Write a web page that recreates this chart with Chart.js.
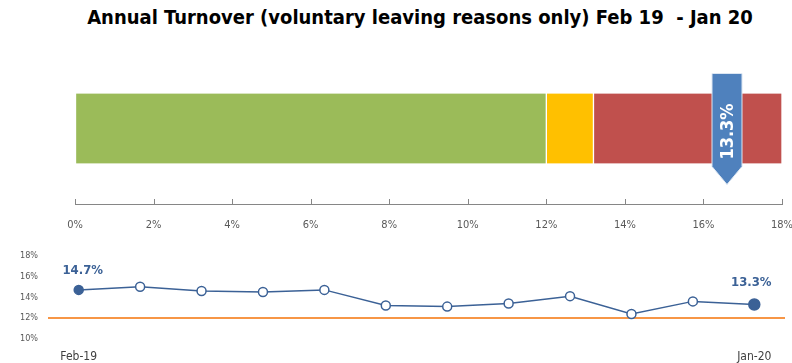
<!DOCTYPE html>
<html lang="en">
<head>
<meta charset="UTF-8">
<title>Annual Turnover</title>
<script src="https://cdn.jsdelivr.net/npm/chart.js"></script>
<style>
    html, body { margin: 0; padding: 0; background: #fff; overflow: hidden; }
    body { width: 792px; height: 363px; position: relative; }
    #title {
        position: absolute; left: 0; top: 5px; width: 840px; text-align: center;
        font-family: 'DejaVu Sans Condensed', sans-serif;
        font-weight: bold; font-size: 20px; color: #000;
    }
    #barWrap { position: absolute; left: 0; top: 0; width: 792px; height: 240px; }
    #lineWrap { position: absolute; left: 0; top: 240px; width: 792px; height: 123px; }
</style>
</head>
<body>
<div id="title">Annual Turnover (voluntary leaving reasons only) Feb 19&nbsp; - Jan 20</div>
<div id="barWrap"><canvas id="barChart"></canvas></div>
<div id="lineWrap"><canvas id="lineChart"></canvas></div>
<script>
// --- bands of the top bar (percent) ---
const bandNames = ['Good', 'Warning', 'High'];
const bandValues = [12, 1.2, 4.8];
const bandColors = ['#9bbb59', '#ffc000', '#c0504d'];
const barTicks = [0, 2, 4, 6, 8, 10, 12, 14, 16, 18];

// marker on the bar
const markerPos = 16.6;
const markerLabel = '13.3%';

// --- monthly trend ---
const months = ['Feb-19', 'Mar-19', 'Apr-19', 'May-19', 'Jun-19', 'Jul-19',
                'Aug-19', 'Sep-19', 'Oct-19', 'Nov-19', 'Dec-19', 'Jan-20'];
const turnover = [14.7, 15.0, 14.6, 14.5, 14.7, 13.2, 13.1, 13.4, 14.1, 12.4, 13.6, 13.3];
const target = 12;
const lineTicks = [10, 12, 14, 16, 18];

const font = "'DejaVu Sans Condensed', sans-serif";
const blue = '#3b6196';

// arrow marker + inward tick marks
const markerPlugin = {
    id: 'marker',
    afterDraw(chart) {
        const ctx = chart.ctx;
        const sx = chart.scales.x;
        ctx.save();
        ctx.strokeStyle = '#868686';
        ctx.lineWidth = 1;
        sx.ticks.forEach((t, i) => {
            const px = Math.round(sx.getPixelForTick(i)) + 0.5;
            ctx.beginPath();
            ctx.moveTo(px, sx.top);
            ctx.lineTo(px, sx.top - 5);
            ctx.stroke();
        });
        ctx.restore();
    },
    afterDatasetsDraw(chart) {
        const ctx = chart.ctx;
        const x = chart.scales.x.getPixelForValue(markerPos);
        const bar = chart.getDatasetMeta(0).data[0];
        const cy = bar.y;
        const w = 15;
        const top = cy - 55, shaftBottom = cy + 38, tip = cy + 56;
        ctx.save();
        ctx.beginPath();
        ctx.moveTo(x - w, top);
        ctx.lineTo(x + w, top);
        ctx.lineTo(x + w, shaftBottom);
        ctx.lineTo(x, tip);
        ctx.lineTo(x - w, shaftBottom);
        ctx.closePath();
        ctx.fillStyle = '#4f81bd';
        ctx.fill();
        ctx.strokeStyle = '#dce6f2';
        ctx.lineWidth = 1;
        ctx.stroke();
        ctx.translate(x, cy + 3);
        ctx.rotate(-Math.PI / 2);
        ctx.fillStyle = '#fff';
        ctx.font = 'bold 18px ' + font;
        ctx.textAlign = 'center';
        ctx.textBaseline = 'middle';
        ctx.fillText(markerLabel, 0, 1);
        ctx.restore();
    }
};

new Chart(document.getElementById('barChart'), {
    type: 'bar',
    data: {
        labels: ['Turnover'],
        datasets: bandNames.map((n, i) => ({
            label: n,
            data: [bandValues[i]],
            backgroundColor: bandColors[i],
            borderColor: '#ffffff',
            borderWidth: { left: 1, right: 1, top: 0, bottom: 0 },
            borderSkipped: false,
            barThickness: 70
        }))
    },
    options: {
        indexAxis: 'y',
        responsive: true,
        maintainAspectRatio: false,
        animation: false,
        layout: { padding: { top: 53, left: 75, right: 10, bottom: 0 } },
        plugins: { legend: { display: false }, tooltip: { enabled: false } },
        scales: {
            y: { display: false, stacked: true },
            x: {
                stacked: true,
                min: 0, max: 18,
                afterBuildTicks: s => { s.ticks = barTicks.map(v => ({ value: v })); },
                afterFit: s => { s.height = 36; s.paddingLeft = 0; s.paddingRight = 0; },
                grid: { drawOnChartArea: false, drawTicks: false },
                border: { display: true, color: '#868686' },
                ticks: {
                    padding: 15,
                    color: '#595959',
                    font: { family: font, size: 11 },
                    callback: v => v + '%'
                }
            }
        }
    },
    plugins: [markerPlugin]
});

// target line + end labels
const trendPlugin = {
    id: 'trend',
    beforeDatasetsDraw(chart) {
        const ctx = chart.ctx;
        const y = chart.scales.y.getPixelForValue(target);
        ctx.save();
        ctx.strokeStyle = '#f79646';
        ctx.lineWidth = 2;
        ctx.beginPath();
        ctx.moveTo(chart.chartArea.left, y);
        ctx.lineTo(chart.chartArea.right, y);
        ctx.stroke();
        ctx.restore();
    },
    afterDatasetsDraw(chart) {
        const ctx = chart.ctx;
        const pts = chart.getDatasetMeta(0).data;
        ctx.save();
        ctx.fillStyle = blue;
        ctx.font = 'bold 13px ' + font;
        ctx.textAlign = 'center';
        ctx.textBaseline = 'middle';
        ctx.fillText(turnover[0].toFixed(1) + '%', pts[0].x + 4, pts[0].y - 19);
        ctx.fillText(turnover[lastIdx].toFixed(1) + '%', pts[lastIdx].x - 3, pts[lastIdx].y - 22);
        ctx.restore();
    }
};

const lastIdx = turnover.length - 1;
new Chart(document.getElementById('lineChart'), {
    type: 'line',
    data: {
        labels: months,
        datasets: [{
            data: turnover,
            borderColor: blue,
            borderWidth: 1.5,
            pointBorderColor: blue,
            pointBorderWidth: 1.5,
            pointBackgroundColor: c => (c.dataIndex === 0 || c.dataIndex === lastIdx) ? blue : '#ffffff',
            pointRadius: c => c.dataIndex === lastIdx ? 5.5 : 4.5,
            tension: 0
        }]
    },
    options: {
        responsive: true,
        maintainAspectRatio: false,
        animation: false,
        layout: { padding: { top: 13, left: 0, right: 7, bottom: 0 } },
        plugins: { legend: { display: false }, tooltip: { enabled: false } },
        scales: {
            y: {
                min: 10, max: 18,
                afterBuildTicks: s => { s.ticks = lineTicks.map(v => ({ value: v })); },
                afterFit: s => { s.width = 48; },
                grid: { display: false, drawTicks: false },
                border: { display: false },
                ticks: {
                    padding: 10,
                    color: '#595959',
                    font: { family: font, size: 9 },
                    callback: v => v + '%'
                }
            },
            x: {
                offset: true,
                afterFit: s => { s.height = 24; s.paddingLeft = 0; s.paddingRight = 0; },
                grid: { display: false, drawTicks: false },
                border: { display: false },
                ticks: {
                    autoSkip: false,
                    maxRotation: 0,
                    padding: 11,
                    color: '#404040',
                    font: { family: font, size: 12 },
                    callback: (v, i) => (i === 0 || i === lastIdx) ? months[i] : ''
                }
            }
        }
    },
    plugins: [trendPlugin]
});
</script>
</body>
</html>
